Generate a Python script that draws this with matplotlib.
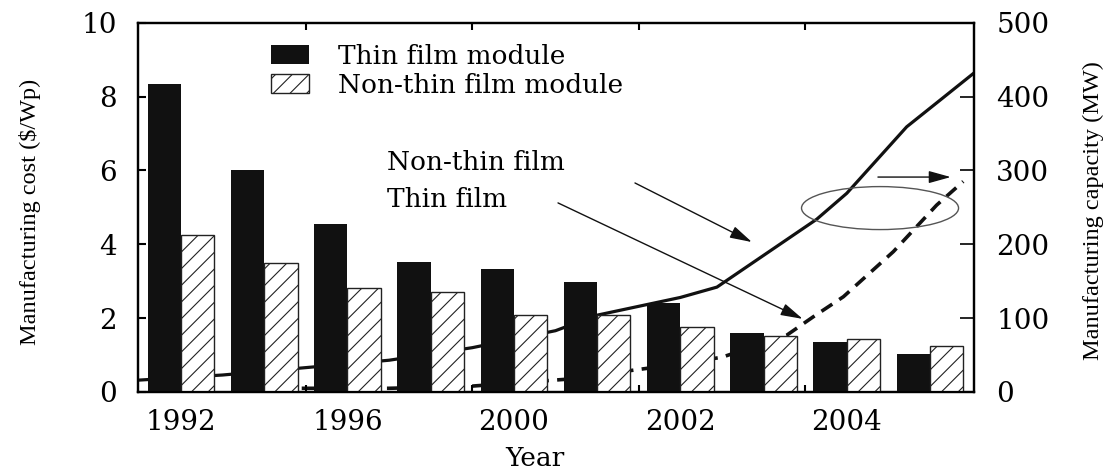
import numpy as np
import matplotlib
matplotlib.use('Agg')
import matplotlib.pyplot as plt
from matplotlib.patches import Ellipse

# Manufacturing cost of PV modules ($/Wp) and capacity (MW)
tick_years = ['1992', '1996', '2000', '2002', '2004']
thin_cost = [8.33, 6.01, 4.55, 3.51, 3.34, 2.99, 2.40, 1.61, 1.36, 1.03]
nonthin_cost = [4.24, 3.48, 2.81, 2.72, 2.09, 2.08, 1.75, 1.52, 1.44, 1.25]

# capacity curves, x in bar-group units
nonthin_cap_x = [-0.52, 0.5, 1.5, 2.5, 3.5, 4.5, 5.0, 6.0, 6.44, 7.64, 8.0, 8.72, 9.12, 9.53]
nonthin_cap = [16, 23, 33, 43, 60, 83, 104, 128, 142, 234, 269, 359, 395, 432]
thin_cap_x = [1.45, 2.5, 3.5, 4.6, 5.6, 6.5, 7.28, 7.6, 7.96, 8.56, 9.08, 9.4]
thin_cap = [5, 5, 8, 17, 32, 47, 77, 102, 129, 190, 253, 285]

plt.rcParams['font.family'] = 'DejaVu Serif'
plt.rcParams['hatch.linewidth'] = 0.8
plt.rcParams['axes.linewidth'] = 1.6

fig = plt.figure(figsize=(11.2, 4.69), dpi=100)
ax = fig.add_axes([0.1228, 0.1642, 0.7469, 0.7874])
ax2 = ax.twinx()
ax.set_zorder(ax2.get_zorder() + 1)  # bars in front of the lines
ax.patch.set_visible(False)

pos = np.arange(len(thin_cost))
ax.bar(pos - 0.2, thin_cost, 0.4, color='#111111', label='Thin film module')
ax.bar(pos + 0.2, nonthin_cost, 0.4, facecolor='white', edgecolor='#222222',
       hatch='//', linewidth=1, label='Non-thin film module')

ax2.plot(nonthin_cap_x, nonthin_cap, color='#111111', lw=2.3)
ax2.plot(thin_cap_x, thin_cap, color='#111111', lw=2.6, linestyle=(0, (3.6, 2.3)))

ax.set_xlim(-0.523, 9.53)
ax.set_ylim(0, 10)
ax2.set_ylim(0, 500)

ax.set_xticks([0, 2, 4, 6, 8])
ax.set_xticklabels(tick_years)
ax.set_xticks([1.5, 3.5, 5.5, 7.5], minor=True)
ax.tick_params(axis='x', which='major', length=0, pad=12, labelsize=20)
ax.tick_params(axis='x', which='minor', direction='in', length=5, width=1.5, top=True, bottom=True)
ax.set_yticks([0, 2, 4, 6, 8, 10])
ax.tick_params(axis='y', direction='in', length=6, width=1.5, pad=15, labelsize=20)
ax2.set_yticks([0, 100, 200, 300, 400, 500])
ax2.tick_params(axis='y', direction='in', length=10, width=1.2, pad=16, labelsize=20)

ax.legend(loc='upper left', bbox_to_anchor=(0.16, 0.942), frameon=False,
          prop={'family': 'DejaVu Serif', 'size': 19}, handlelength=1.44,
          handleheight=0.72, handletextpad=1.1, labelspacing=0.15,
          borderpad=0, borderaxespad=0)

# labels and arrows
ax.text(2.475, 6.01, 'Non-thin film', fontsize=19, va='baseline')
ax.text(2.475, 5.01, 'Thin film', fontsize=19, va='baseline')
arrow = dict(arrowstyle='-|>,head_length=0.9,head_width=0.25', color='#111111',
             lw=1.0, mutation_scale=15, shrinkA=0, shrinkB=0)
ax.annotate('', xy=(6.86, 4.06), xytext=(5.455, 5.66), arrowprops=arrow)
ax.annotate('', xy=(7.47, 1.98), xytext=(4.53, 5.12), arrowprops=arrow)
ax.annotate('', xy=(9.25, 5.82), xytext=(8.375, 5.82), arrowprops=arrow)
ax.add_patch(Ellipse((8.40, 4.98), 1.887, 1.164, fill=False, edgecolor='#555555', lw=1.0))

fig.text(30 / 1120, 1 - 211.5 / 469, 'Manufacturing cost ($/Wp)', rotation=90,
         ha='center', va='center', family='Liberation Serif', fontsize=17.5)
fig.text(1093 / 1120, 1 - 211 / 469, 'Manufacturing capacity (MW)', rotation=90,
         ha='center', va='center', family='Liberation Serif', fontsize=17.5)
fig.text(535 / 1120, 1 - 466 / 469, 'Year', ha='center', va='baseline', fontsize=19)

fig.savefig('out.png', dpi=100)
